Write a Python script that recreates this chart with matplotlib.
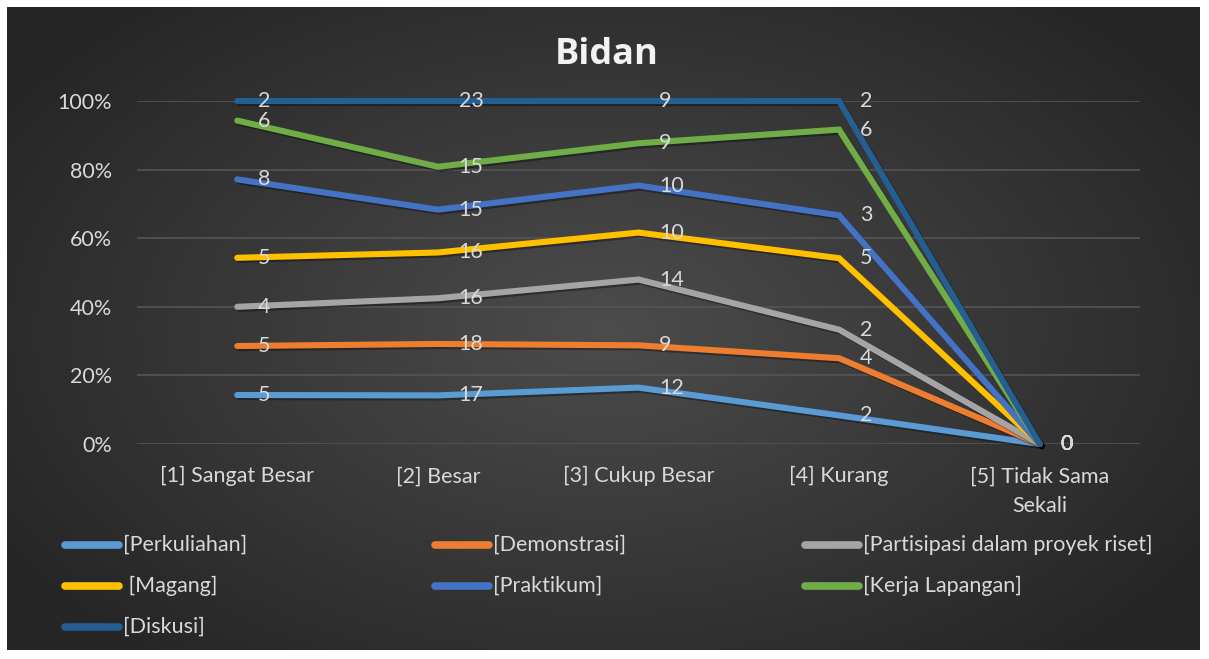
#!/usr/bin/env python3

import numpy as np
import matplotlib.pyplot as plt
from matplotlib.lines import Line2D
import matplotlib.patheffects as pe

plt.rcParams['font.family'] = ['Lato', 'DejaVu Sans']

categories = ["[1] Sangat Besar", "[2] Besar", "[3] Cukup Besar", "[4] Kurang",
              "[5] Tidak Sama\nSekali"]
series_names = ["[Perkuliahan]", "[Demonstrasi]", "[Partisipasi dalam proyek riset]",
                " [Magang]", "[Praktikum]", "[Kerja Lapangan]", "[Diskusi]"]
perkuliahan = [5, 17, 12, 2, 0]
demonstrasi = [5, 18, 9, 4, 0]
partisipasi = [4, 16, 14, 2, 0]
magang = [5, 16, 10, 5, 0]
praktikum = [8, 15, 10, 3, 0]
kerja_lapangan = [6, 15, 9, 6, 0]
diskusi = [2, 23, 9, 2, 0]
colors = ["#5B9BD5", "#ED7D31", "#A5A5A5", "#FFC000", "#4472C4", "#70AD47", "#255E91"]

values = np.array([perkuliahan, demonstrasi, partisipasi, magang, praktikum,
                   kerja_lapangan, diskusi], dtype=float)
totals = values.sum(axis=0)
cum = np.cumsum(values, axis=0)
pct = np.divide(cum, totals, out=np.zeros_like(cum), where=totals > 0)

FS = 15.5
W, H = 1209, 659
fig = plt.figure(figsize=(W / 100, H / 100), dpi=100)
fig.patch.set_facecolor("white")

# radial gradient background
bg = fig.add_axes([7 / W, 9 / H, 1193 / W, 643 / H])
yy, xx = np.mgrid[0:300, 0:560]
r = np.sqrt(((xx - 280) / 330.0) ** 2 + ((yy - 150) / 200.0) ** 2)
r = np.clip(r, 0, 1)
light, dark = 0x4c / 255, 0x26 / 255
shade = light + (dark - light) * r
bg.imshow(np.dstack([shade] * 3), aspect="auto", interpolation="bilinear")
bg.axis("off")

ax = fig.add_axes([137 / W, 1 - 444 / H, 1003 / W, 343 / H])
ax.patch.set_alpha(0)
x = np.arange(len(categories))

for i in range(len(series_names)):
    ax.plot(x, pct[i], color=colors[i], lw=4.4, solid_capstyle="round",
            solid_joinstyle="miter", clip_on=False, zorder=3 + i,
            path_effects=[pe.SimpleLineShadow(offset=(1.5, -1.5), alpha=0.35),
                          pe.Normal()])
    for j in range(len(categories)):
        ax.annotate(f"{int(values[i, j])}", (x[j], pct[i, j]), xytext=(15, 0),
                    textcoords="offset points", ha="left", va="center",
                    fontsize=FS, color="#d9d9d9", zorder=20)

ax.set_xlim(-0.5, len(categories) - 0.5)
ax.set_ylim(0, 1)
ax.set_yticks(np.arange(0, 1.01, 0.2))
ax.set_yticklabels([f"{int(round(v * 100))}%" for v in np.arange(0, 1.01, 0.2)])
ax.set_xticks(x)
ax.set_xticklabels(categories, linespacing=1.6)
ax.tick_params(axis="both", length=0, labelsize=FS, colors="#d9d9d9")
ax.tick_params(axis="x", pad=16)
ax.tick_params(axis="y", pad=18)
ax.grid(axis="y", color="#555555", lw=1.2)
for s in ax.spines.values():
    s.set_visible(False)

fig.text(607 / W, 1 - 55 / H, "Bidan", ha="center", va="center", fontsize=26,
         fontweight="bold", color="#f2f2f2", fontfamily="Open Sans")

# legend in three equal columns
for i, name in enumerate(series_names):
    row, col = divmod(i, 3)
    x0 = (65 + col * 370) / W
    y0 = 1 - (545 + row * 41) / H
    fig.add_artist(Line2D([x0, x0 + 54 / W], [y0, y0], color=colors[i], lw=5.5,
                          solid_capstyle="round", transform=fig.transFigure))
    fig.text(x0 + 58 / W, y0, name, ha="left", va="center", fontsize=FS,
             color="#d9d9d9")

fig.savefig("out.png", dpi=100)
